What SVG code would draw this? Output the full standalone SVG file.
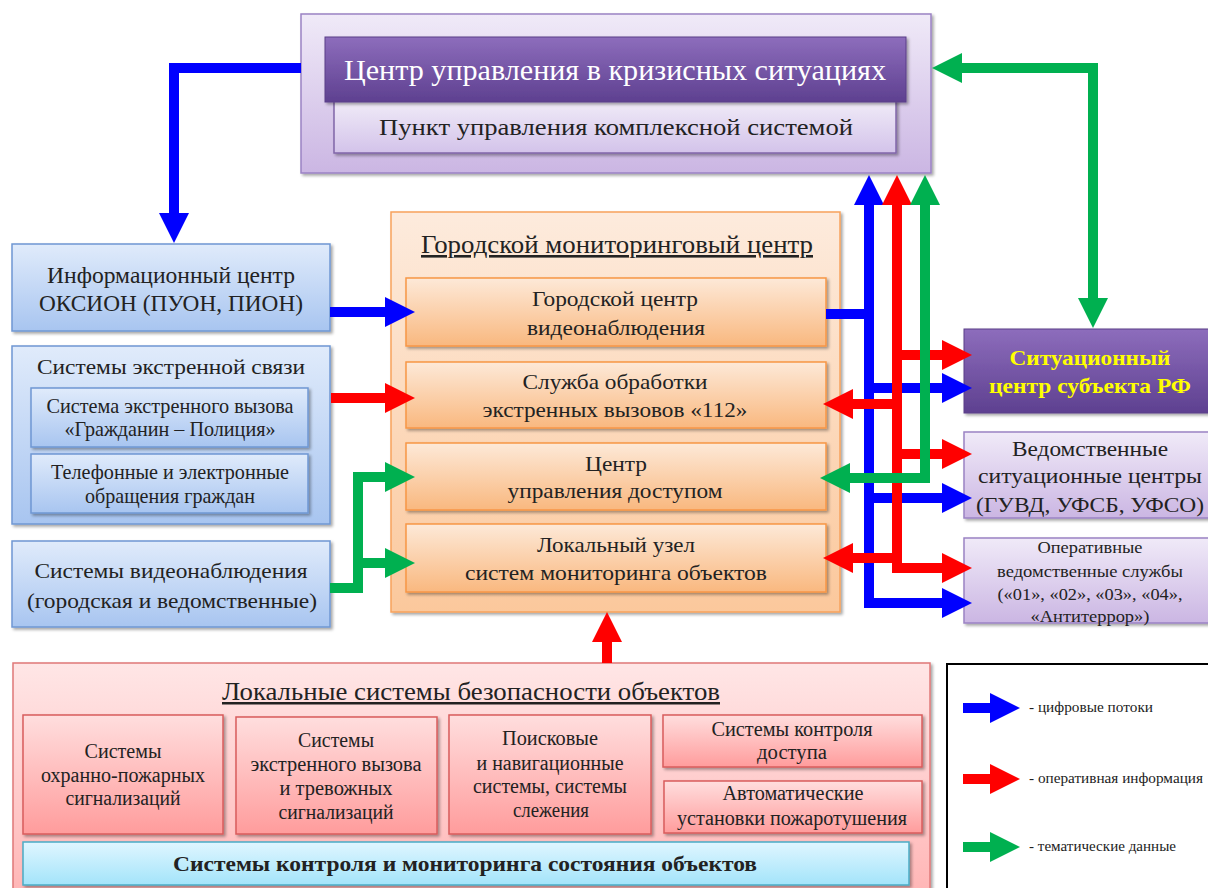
<svg xmlns="http://www.w3.org/2000/svg" width="1208" height="888" viewBox="0 0 1208 888">
<defs>
  <filter id="sh" x="-5%" y="-5%" width="115%" height="120%">
    <feDropShadow dx="2" dy="2" stdDeviation="1.5" flood-color="#000" flood-opacity="0.35"/>
  </filter>
  <linearGradient id="gLav" x1="0" y1="0" x2="0" y2="1"><stop offset="0" stop-color="#F0EAF8"/><stop offset="1" stop-color="#CBB6E3"/></linearGradient>
  <linearGradient id="gLav2" x1="0" y1="0" x2="0" y2="1"><stop offset="0" stop-color="#F1ECF8"/><stop offset="1" stop-color="#D3C3EA"/></linearGradient>
  <linearGradient id="gPur" x1="0" y1="0" x2="0" y2="1"><stop offset="0" stop-color="#8D6DBC"/><stop offset="1" stop-color="#5E4090"/></linearGradient>
  <linearGradient id="gBlue" x1="0" y1="0" x2="0" y2="1"><stop offset="0" stop-color="#E0EBFB"/><stop offset="1" stop-color="#A8C5F0"/></linearGradient>
  <linearGradient id="gOr" x1="0" y1="0" x2="0" y2="1"><stop offset="0" stop-color="#FDEBDD"/><stop offset="1" stop-color="#FBC89C"/></linearGradient>
  <linearGradient id="gOr2" x1="0" y1="0" x2="0" y2="1"><stop offset="0" stop-color="#FDE9D8"/><stop offset="1" stop-color="#F9B87F"/></linearGradient>
  <linearGradient id="gRed" x1="0" y1="0" x2="0" y2="1"><stop offset="0" stop-color="#FFE6E6"/><stop offset="1" stop-color="#FFB4B4"/></linearGradient>
  <linearGradient id="gRed2" x1="0" y1="0" x2="0" y2="1"><stop offset="0" stop-color="#FFDEDE"/><stop offset="1" stop-color="#FF9C9C"/></linearGradient>
  <linearGradient id="gCyan" x1="0" y1="0" x2="0" y2="1"><stop offset="0" stop-color="#E0F6FF"/><stop offset="1" stop-color="#A3E4FA"/></linearGradient>
  <marker id="mB" markerWidth="3" markerHeight="3" viewBox="0 0 3 3" refX="0" refY="1.5" orient="auto-start-reverse" overflow="visible"><path d="M0,0 L3,1.5 L0,3 z" fill="#0000FF"/></marker>
  <marker id="mR" markerWidth="3" markerHeight="3" viewBox="0 0 3 3" refX="0" refY="1.5" orient="auto-start-reverse" overflow="visible"><path d="M0,0 L3,1.5 L0,3 z" fill="#FF0000"/></marker>
  <marker id="mG" markerWidth="3" markerHeight="3" viewBox="0 0 3 3" refX="0" refY="1.5" orient="auto-start-reverse" overflow="visible"><path d="M0,0 L3,1.5 L0,3 z" fill="#00B050"/></marker>
</defs>

<g id="crisis" text-anchor="middle" fill="#222222">
  <rect fill="url(#gLav)" stroke="#9B82C4" stroke-width="1.5" filter="url(#sh)" x="301" y="14" width="630" height="159"/>
  <rect fill="url(#gLav2)" stroke="#8066A8" stroke-width="1.5" filter="url(#sh)" x="334" y="100" width="562" height="53"/>
  <rect fill="url(#gPur)" stroke="#5A3E88" stroke-width="1" filter="url(#sh)" x="325" y="37" width="581" height="65"/>
  <text font-family="Liberation Serif" fill="#ffffff" x="615" y="80" font-size="30" textLength="542" lengthAdjust="spacingAndGlyphs">Центр управления в кризисных ситуациях</text>
  <text font-family="Liberation Serif" x="616" y="135" font-size="24" textLength="474" lengthAdjust="spacingAndGlyphs">Пункт управления комплексной системой</text>
</g>

<g id="info" text-anchor="middle" fill="#222222">
  <rect fill="url(#gBlue)" stroke="#6F97D3" stroke-width="1.5" filter="url(#sh)" x="12" y="244" width="318" height="87"/>
  <text font-family="Liberation Serif" x="171" y="283" font-size="24" textLength="248" lengthAdjust="spacingAndGlyphs">Информационный центр</text>
  <text font-family="Liberation Serif" x="171" y="311" font-size="24" textLength="264" lengthAdjust="spacingAndGlyphs">ОКСИОН (ПУОН, ПИОН)</text>
</g>

<g id="emergency" text-anchor="middle" fill="#222222">
  <rect fill="url(#gBlue)" stroke="#6F97D3" stroke-width="1.5" filter="url(#sh)" x="12" y="346" width="318" height="178"/>
  <text font-family="Liberation Serif" x="171" y="374" font-size="22" textLength="268" lengthAdjust="spacingAndGlyphs">Системы экстренной связи</text>
  <g id="citizen-police">
    <rect fill="url(#gBlue)" stroke="#6F97D3" stroke-width="1.5" filter="url(#sh)" x="31" y="388" width="277" height="59"/>
    <text font-family="Liberation Serif" x="170" y="413" font-size="21" textLength="247" lengthAdjust="spacingAndGlyphs">Система экстренного вызова</text>
    <text font-family="Liberation Serif" x="170" y="436" font-size="21" textLength="211" lengthAdjust="spacingAndGlyphs">«Гражданин – Полиция»</text>
  </g>
  <g id="phone">
    <rect fill="url(#gBlue)" stroke="#6F97D3" stroke-width="1.5" filter="url(#sh)" x="31" y="454" width="277" height="59"/>
    <text font-family="Liberation Serif" x="170" y="479" font-size="21" textLength="238" lengthAdjust="spacingAndGlyphs">Телефонные и электронные</text>
    <text font-family="Liberation Serif" x="170" y="503" font-size="21" textLength="170" lengthAdjust="spacingAndGlyphs">обращения граждан</text>
  </g>
</g>

<g id="video" text-anchor="middle" fill="#222222">
  <rect fill="url(#gBlue)" stroke="#6F97D3" stroke-width="1.5" filter="url(#sh)" x="12" y="541" width="318" height="86"/>
  <text font-family="Liberation Serif" x="171" y="578" font-size="22" textLength="273" lengthAdjust="spacingAndGlyphs">Системы видеонаблюдения</text>
  <text font-family="Liberation Serif" x="172" y="608" font-size="22" textLength="290" lengthAdjust="spacingAndGlyphs">(городская и ведомственные)</text>
</g>

<g id="gmc" text-anchor="middle" fill="#222222">
  <rect fill="url(#gOr)" stroke="#F7A25C" stroke-width="1.5" filter="url(#sh)" x="391" y="212" width="449" height="400"/>
  <text font-family="Liberation Serif" text-decoration="underline" x="617" y="253" font-size="26" textLength="392" lengthAdjust="spacingAndGlyphs">Городской мониторинговый центр</text>
  <g id="gmc-video">
    <rect fill="url(#gOr2)" stroke="#F79646" stroke-width="1.5" filter="url(#sh)" x="406" y="278" width="420" height="68"/>
    <text font-family="Liberation Serif" x="615" y="306" font-size="22" textLength="166" lengthAdjust="spacingAndGlyphs">Городской центр</text>
    <text font-family="Liberation Serif" x="616" y="335" font-size="22" textLength="178" lengthAdjust="spacingAndGlyphs">видеонаблюдения</text>
  </g>
  <g id="gmc-112">
    <rect fill="url(#gOr2)" stroke="#F79646" stroke-width="1.5" filter="url(#sh)" x="406" y="362" width="420" height="66"/>
    <text font-family="Liberation Serif" x="615" y="389" font-size="22" textLength="185" lengthAdjust="spacingAndGlyphs">Служба обработки</text>
    <text font-family="Liberation Serif" x="615" y="417" font-size="22" textLength="265" lengthAdjust="spacingAndGlyphs">экстренных вызовов «112»</text>
  </g>
  <g id="gmc-access">
    <rect fill="url(#gOr2)" stroke="#F79646" stroke-width="1.5" filter="url(#sh)" x="406" y="443" width="420" height="67"/>
    <text font-family="Liberation Serif" x="616" y="471" font-size="22" textLength="62" lengthAdjust="spacingAndGlyphs">Центр</text>
    <text font-family="Liberation Serif" x="615" y="498" font-size="22" textLength="215" lengthAdjust="spacingAndGlyphs">управления доступом</text>
  </g>
  <g id="gmc-local">
    <rect fill="url(#gOr2)" stroke="#F79646" stroke-width="1.5" filter="url(#sh)" x="406" y="524" width="420" height="68"/>
    <text font-family="Liberation Serif" x="616" y="552" font-size="22" textLength="158" lengthAdjust="spacingAndGlyphs">Локальный узел</text>
    <text font-family="Liberation Serif" x="616" y="580" font-size="22" textLength="302" lengthAdjust="spacingAndGlyphs">систем мониторинга объектов</text>
  </g>
</g>

<g id="situational" text-anchor="middle" fill="#FFFF00" font-weight="bold">
  <rect fill="url(#gPur)" stroke="#5A3E88" stroke-width="1" filter="url(#sh)" x="964" y="329" width="250" height="84"/>
  <text font-family="Liberation Serif" x="1090" y="365" font-size="22" textLength="161" lengthAdjust="spacingAndGlyphs">Ситуационный</text>
  <text font-family="Liberation Serif" x="1090" y="393" font-size="22" textLength="202" lengthAdjust="spacingAndGlyphs">центр субъекта РФ</text>
</g>

<g id="departmental" text-anchor="middle" fill="#222222">
  <rect fill="url(#gLav)" stroke="#9B82C4" stroke-width="1.5" filter="url(#sh)" x="964" y="432" width="250" height="86"/>
  <text font-family="Liberation Serif" x="1090" y="456" font-size="22" textLength="156" lengthAdjust="spacingAndGlyphs">Ведомственные</text>
  <text font-family="Liberation Serif" x="1090" y="483" font-size="22" textLength="224" lengthAdjust="spacingAndGlyphs">ситуационные центры</text>
  <text font-family="Liberation Serif" x="1090" y="512" font-size="22" textLength="228" lengthAdjust="spacingAndGlyphs">(ГУВД, УФСБ, УФСО)</text>
</g>

<g id="operative" text-anchor="middle" fill="#222222">
  <rect fill="url(#gLav)" stroke="#9B82C4" stroke-width="1.5" filter="url(#sh)" x="964" y="538" width="250" height="85"/>
  <text font-family="Liberation Serif" x="1090" y="553" font-size="17" textLength="105" lengthAdjust="spacingAndGlyphs">Оперативные</text>
  <text font-family="Liberation Serif" x="1090" y="577" font-size="17" textLength="186" lengthAdjust="spacingAndGlyphs">ведомственные службы</text>
  <text font-family="Liberation Serif" x="1090" y="600" font-size="17" textLength="185" lengthAdjust="spacingAndGlyphs">(«01», «02», «03», «04»,</text>
  <text font-family="Liberation Serif" x="1090" y="622" font-size="17" textLength="119" lengthAdjust="spacingAndGlyphs">«Антитеррор»)</text>
</g>

<g id="local-systems" text-anchor="middle" fill="#222222">
  <rect fill="url(#gRed)" stroke="#E07878" stroke-width="1.5" filter="url(#sh)" x="13" y="663" width="917" height="240"/>
  <text font-family="Liberation Serif" text-decoration="underline" x="471" y="700" font-size="25" textLength="498" lengthAdjust="spacingAndGlyphs">Локальные системы безопасности объектов</text>
  <g id="fire-alarm">
    <rect fill="url(#gRed2)" stroke="#D95C5C" stroke-width="1.5" filter="url(#sh)" x="23" y="715" width="200" height="119"/>
    <text font-family="Liberation Serif" x="123" y="758" font-size="20" textLength="77" lengthAdjust="spacingAndGlyphs">Системы</text>
    <text font-family="Liberation Serif" x="123" y="782" font-size="20" textLength="164" lengthAdjust="spacingAndGlyphs">охранно-пожарных</text>
    <text font-family="Liberation Serif" x="123" y="805" font-size="20" textLength="115" lengthAdjust="spacingAndGlyphs">сигнализаций</text>
  </g>
  <g id="alarm-call">
    <rect fill="url(#gRed2)" stroke="#D95C5C" stroke-width="1.5" filter="url(#sh)" x="236" y="717" width="201" height="117"/>
    <text font-family="Liberation Serif" x="336" y="747" font-size="20" textLength="76" lengthAdjust="spacingAndGlyphs">Системы</text>
    <text font-family="Liberation Serif" x="336" y="771" font-size="20" textLength="171" lengthAdjust="spacingAndGlyphs">экстренного вызова</text>
    <text font-family="Liberation Serif" x="336" y="795" font-size="20" textLength="113" lengthAdjust="spacingAndGlyphs">и тревожных</text>
    <text font-family="Liberation Serif" x="336" y="819" font-size="20" textLength="115" lengthAdjust="spacingAndGlyphs">сигнализаций</text>
  </g>
  <g id="search-nav">
    <rect fill="url(#gRed2)" stroke="#D95C5C" stroke-width="1.5" filter="url(#sh)" x="449" y="715" width="202" height="119"/>
    <text font-family="Liberation Serif" x="550" y="745" font-size="20" textLength="96" lengthAdjust="spacingAndGlyphs">Поисковые</text>
    <text font-family="Liberation Serif" x="550" y="770" font-size="20" textLength="147" lengthAdjust="spacingAndGlyphs">и навигационные</text>
    <text font-family="Liberation Serif" x="550" y="793" font-size="20" textLength="154" lengthAdjust="spacingAndGlyphs">системы, системы</text>
    <text font-family="Liberation Serif" x="551" y="817" font-size="20" textLength="76" lengthAdjust="spacingAndGlyphs">слежения</text>
  </g>
  <g id="access-control">
    <rect fill="url(#gRed2)" stroke="#D95C5C" stroke-width="1.5" filter="url(#sh)" x="663" y="715" width="259" height="52"/>
    <text font-family="Liberation Serif" x="792" y="736" font-size="20" textLength="161" lengthAdjust="spacingAndGlyphs">Системы контроля</text>
    <text font-family="Liberation Serif" x="792" y="759" font-size="20" textLength="70" lengthAdjust="spacingAndGlyphs">доступа</text>
  </g>
  <g id="fire-ext">
    <rect fill="url(#gRed2)" stroke="#D95C5C" stroke-width="1.5" filter="url(#sh)" x="664" y="781" width="258" height="52"/>
    <text font-family="Liberation Serif" x="793" y="800" font-size="20" textLength="141" lengthAdjust="spacingAndGlyphs">Автоматические</text>
    <text font-family="Liberation Serif" x="792" y="825" font-size="20" textLength="230" lengthAdjust="spacingAndGlyphs">установки пожаротушения</text>
  </g>
  <g id="monitoring-bar">
    <rect fill="url(#gCyan)" stroke="#4BACC6" stroke-width="1.5" filter="url(#sh)" x="23" y="842" width="886" height="43"/>
    <text font-family="Liberation Serif" x="465" y="871" font-size="21" font-weight="bold" textLength="584" lengthAdjust="spacingAndGlyphs">Системы контроля и мониторинга состояния объектов</text>
  </g>
</g>

<g id="connectors" fill="none" stroke-width="10" stroke-linejoin="miter" stroke-linecap="butt">
  <g stroke="#0000FF">
    <path marker-end="url(#mB)" d="M301,68 H174 V213"/>
    <path marker-end="url(#mB)" d="M330,312 H385"/>
    <path d="M826,314 H869"/>
    <path marker-end="url(#mB)" d="M869,608 V205"/>
    <path marker-end="url(#mB)" d="M864,388 H942"/>
    <path marker-end="url(#mB)" d="M864,498 H942"/>
    <path marker-end="url(#mB)" d="M864,603 H942"/>
  </g>
  <g stroke="#FF0000">
    <path marker-end="url(#mR)" d="M331,398 H385"/>
    <path marker-end="url(#mR)" d="M607,663 V642"/>
    <path marker-end="url(#mR)" d="M897,573 V205"/>
    <path marker-end="url(#mR)" d="M892,355 H942"/>
    <path marker-end="url(#mR)" d="M902,404 H853"/>
    <path marker-end="url(#mR)" d="M892,454 H942"/>
    <path marker-end="url(#mR)" d="M902,558 H853"/>
    <path marker-end="url(#mR)" d="M892,568 H942"/>
  </g>
  <g stroke="#00B050">
    <path marker-end="url(#mG)" d="M330,588 H358 V477 H385"/>
    <path marker-end="url(#mG)" d="M353,563 H385"/>
    <path marker-end="url(#mG)" d="M925,483 V205"/>
    <path marker-end="url(#mG)" d="M930,478 H850"/>
    <path marker-start="url(#mG)" marker-end="url(#mG)" d="M1093,298 V68 H962"/>
  </g>
</g>

<g id="legend" fill="#222222">
  <rect x="947" y="664" width="270" height="240" fill="#ffffff" stroke="#000000" stroke-width="2"/>
  <path fill="none" stroke="#0000FF" stroke-width="10" marker-end="url(#mB)" d="M963,708 H990"/>
  <text font-family="Liberation Serif" font-size="15" x="1029" y="712" textLength="124" lengthAdjust="spacingAndGlyphs">- цифровые потоки</text>
  <path fill="none" stroke="#FF0000" stroke-width="10" marker-end="url(#mR)" d="M963,779 H990"/>
  <text font-family="Liberation Serif" font-size="15" x="1029" y="783" textLength="174" lengthAdjust="spacingAndGlyphs">- оперативная информация</text>
  <path fill="none" stroke="#00B050" stroke-width="10" marker-end="url(#mG)" d="M963,847 H990"/>
  <text font-family="Liberation Serif" font-size="15" x="1029" y="851" textLength="147" lengthAdjust="spacingAndGlyphs">- тематические данные</text>
</g>
</svg>
